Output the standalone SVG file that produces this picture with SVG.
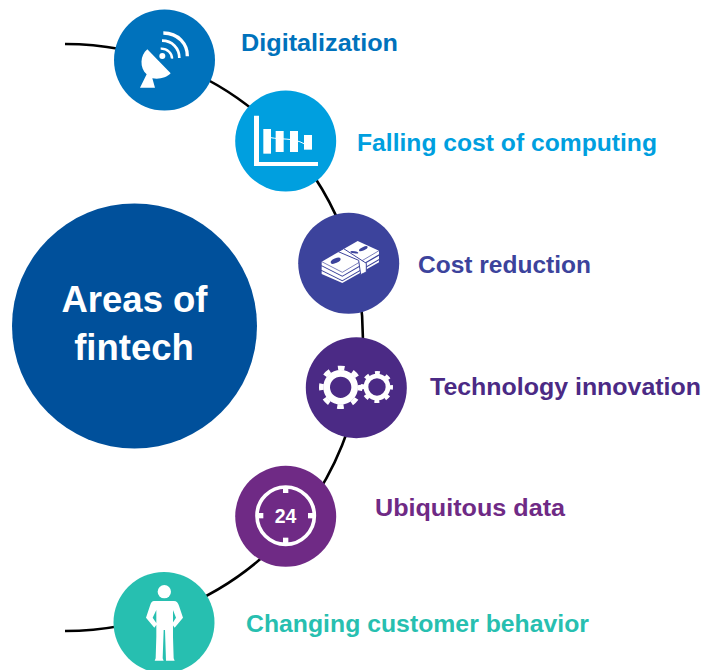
<svg xmlns="http://www.w3.org/2000/svg" width="703" height="670" viewBox="0 0 703 670">
<style>
text{font-family:"Liberation Sans",Arial,sans-serif;font-weight:700}
.lbl{font-size:23.5px}
.ico{fill:#fff;stroke:none}
.ln{fill:none;stroke:#fff}
</style>
<rect width="703" height="670" fill="#fff"/>
<g id="connectors"><path d="M65 44A298 293.500 0 0 1 65 631" fill="none" stroke="#000" stroke-width="2.6"/></g>
<g id="center"><circle cx="134.500" cy="326" r="122.500" fill="#00509B"/>
<text x="134.500" y="312" text-anchor="middle" font-size="36.500" fill="#fff">Areas of</text>
<text x="134" y="360" text-anchor="middle" font-size="36.500" fill="#fff">fintech</text></g>
<g id="digitalization"><circle cx="164.500" cy="60" r="50.500" fill="#0072BC"/>
<g transform="translate(110 5) scale(.3333)">
<path class="ico" d="M112 133C90 150 88 190 110 208L90 248H135L127 220C148 224 170 218 182 205Z"/>
<circle class="ico" cx="157" cy="153" r="9"/>
<path class="ln" stroke-width="10" d="M160 84C205 84 233 118 232 154"/>
<path class="ln" stroke-width="8" d="M156 107C187 107 208 130 208 159"/>
<path class="ln" stroke-width="7" d="M152 131C172 130 187 145 186 161"/></g>
<text class="lbl" x="241" y="51" fill="#0072BC" textLength="157" lengthAdjust="spacingAndGlyphs">Digitalization</text></g>
<g id="falling-cost"><circle cx="285.700" cy="141" r="50.500" fill="#009FDF"/>
<g transform="translate(230 85) scale(.3333)">
<path class="ico" d="M72 92H87V231H264V243H72Z"/>
<rect class="ico" x="100" y="132" width="23" height="74"/>
<rect class="ico" x="137" y="138" width="24" height="63"/>
<rect class="ico" x="180" y="138" width="24" height="63"/>
<rect class="ico" x="222" y="150" width="24" height="44"/>
<path class="ln" stroke-width="3" d="M123 158C150 164 190 158 222 176"/></g>
<text class="lbl" x="357" y="151" fill="#009FDF" textLength="300" lengthAdjust="spacingAndGlyphs">Falling cost of computing</text></g>
<g id="cost-reduction"><circle cx="348.700" cy="263.300" r="50.500" fill="#3C439C"/>
<g transform="translate(295 210) scale(.3333)">
<path class="ico" d="M80 155 188 93 252 122V133L142 197 80 166Z"/>
<path class="ico" d="M80 169 142 200 252 137V147L142 211 80 180Z"/>
<path class="ico" d="M80 183 142 214 252 151V157L142 219 80 192Z"/>
<path d="M80 155 142 187 252 122" fill="none" stroke="#3C439C" stroke-width="2"/>
<path d="M130 125 146 116 214 160V186L197 194 191 151Z" fill="#fff" stroke="#3C439C" stroke-width="3"/>
<ellipse cx="122" cy="152" rx="16" ry="7" transform="rotate(-25 122 152)" fill="#3C439C"/>
<ellipse cx="205" cy="116" rx="14" ry="5" transform="rotate(-25 205 116)" fill="#3C439C"/>
<ellipse cx="178" cy="127" rx="12" ry="3" transform="rotate(10 178 127)" fill="#3C439C"/></g>
<text class="lbl" x="418" y="273" fill="#3C439C" textLength="173" lengthAdjust="spacingAndGlyphs">Cost reduction</text></g>
<g id="technology"><circle cx="356.300" cy="387.700" r="50.500" fill="#4B2A85"/>
<g transform="translate(300 332) scale(.3333)">
<circle class="ln" cx="122" cy="166" r="42" stroke-width="20"/>
<circle class="ln" cx="122" cy="166" r="58" stroke-width="14" stroke-dasharray="20 25.550" stroke-dashoffset="10"/>
<circle class="ln" cx="231" cy="165" r="33" stroke-width="14"/>
<circle class="ln" cx="231" cy="165" r="43" stroke-width="10" stroke-dasharray="15 18.770" stroke-dashoffset="7.500"/></g>
<text class="lbl" x="430" y="395" fill="#4B2A85" textLength="271" lengthAdjust="spacingAndGlyphs">Technology innovation</text></g>
<g id="ubiquitous"><circle cx="285.700" cy="516.300" r="50.500" fill="#6F2A85"/>
<g transform="translate(230 462) scale(.3333)">
<circle class="ln" cx="167" cy="161" r="86" stroke-width="11"/>
<rect class="ico" x="159" y="76" width="16" height="17"/>
<rect class="ico" x="159" y="227" width="16" height="17"/>
<rect class="ico" x="83" y="153" width="17" height="16"/>
<rect class="ico" x="234" y="153" width="17" height="16"/></g>
<text x="285.500" y="523" text-anchor="middle" font-size="19.500" fill="#fff">24</text>
<text class="lbl" x="375" y="516" fill="#6F2A85" textLength="190" lengthAdjust="spacingAndGlyphs">Ubiquitous data</text></g>
<g id="customer"><circle cx="164" cy="622.500" r="50.500" fill="#27BFB0"/>
<g transform="translate(110 565) scale(.3333)">
<circle class="ico" cx="163" cy="80" r="20"/>
<path class="ico" d="M132 108H192C200 108 204 114 207 122L219 158 194 188 186 177 198 158 189 135V215L191 280 194 287H168L165 195H161L158 280 161 287H134L137 280 139 215V135L128 158 141 177 133 188 108 158 120 122C123 112 127 108 132 108Z"/></g>
<text class="lbl" x="246" y="632" fill="#27BFB0" textLength="343" lengthAdjust="spacingAndGlyphs">Changing customer behavior</text></g>
</svg>
